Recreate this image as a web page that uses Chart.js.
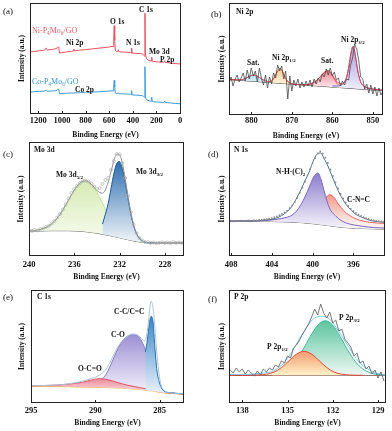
<!DOCTYPE html>
<html>
<head>
<meta charset="utf-8">
<script src="https://cdn.jsdelivr.net/npm/chart.js@4.4.1/dist/chart.umd.min.js"></script>
<style>
  html, body { margin: 0; padding: 0; background: #fff; }
  #fig { position: relative; width: 392px; height: 431px; overflow: hidden; }
  #fig canvas { position: absolute; }
</style>
</head>
<body>
<div id="fig"></div>
<script>
"use strict";

const FONT = '"Liberation Serif", "Times New Roman", serif';

// ---- (a) survey ----
const A_TICKS = [1200, 1000, 800, 600, 400, 200, 0];
const A_NI = [[1270,62.0],[1230,62.6],[1190,63.3],[1150,63.8],[1132,65.8],[1124,64.0],[1080,64.6],[1050,65.3],[1035,66.6],[1027,67.0],[1020,61.0],[1000,61.4],[960,62.1],[920,62.6],[905,63.0],[899,64.9],[893,63.1],[850,63.8],[800,64.4],[750,65.0],[700,65.7],[650,66.3],[600,67.0],[575,67.6],[566,67.2],[561,76],[557,88.3],[553,74],[548,64],[540,62.4],[528,62.6],[523,64.2],[516,62.2],[470,61.9],[420,61.5],[414,61.0],[410,66.0],[405,60.8],[380,60.7],[330,60.4],[318,60.0],[308,58.6],[300,57.8],[297,100.7],[293,60],[285,55.5],[272,54.0],[255,53.2],[244,53.0],[240,56.8],[236,53.0],[220,52.4],[180,52.0],[140,51.7],[130,53.3],[124,51.6],[80,51.0],[40,50.4],[-8,50.0]];
const A_CO = [[1270,22.0],[1230,22.3],[1190,22.6],[1150,22.8],[1132,23.8],[1124,22.8],[1080,23.0],[1050,23.3],[1035,24.5],[1027,25.0],[1020,20.3],[1000,20.5],[960,20.8],[900,21.0],[850,21.3],[800,21.5],[790,22.3],[783,21.4],[750,21.8],[700,22.1],[650,22.5],[600,22.9],[575,23.3],[566,23.0],[561,28],[557,33.7],[553,27],[548,21],[540,20.4],[523,21.2],[516,20.2],[470,20.1],[420,19.8],[414,19.4],[410,23.4],[405,19.1],[380,18.9],[330,18.6],[318,18.3],[308,17.3],[300,16.8],[297,47.3],[293,17],[285,14.5],[272,13.7],[255,13.0],[244,12.8],[240,16.8],[236,12.6],[220,12.2],[180,11.9],[140,11.6],[130,13.0],[124,11.5],[80,11.0],[40,10.5],[-8,10.2]];

// ---- (b) Ni 2p ----
const B_TICKS = [880, 870, 860, 850];
const B_BG = [[885.5,35.5],[847.5,24.3]];
const B_SAT1 = [[883,35.1],[882,35.7],[881,37.5],[880,39.6],[879.3,40.0],[878.5,38.7],[877.5,36.3],[876.5,34.0],[875.5,32.9]];
const B_NI12 = [[876,32.8],[875.5,33.1],[875,34.0],[874.5,36.2],[874,40.0],[873.5,43.8],[872.9,46.3],[872.3,43.7],[871.8,39.3],[871.3,35.3],[870.8,32.7],[870.3,31.5],[869.8,30.9]];
const B_SAT2 = [[867,30.2],[866,30.5],[865,31.6],[864,34.2],[863,38.2],[862,42.2],[861,43.7],[860.3,41.2],[859.6,36.5],[858.9,31.8],[858.2,29.1],[857.5,27.7]];
const B_NI32 = [[860,28.9],[859,29.0],[858,29.7],[857,32.9],[856.4,39.0],[855.9,49.1],[855.4,61.8],[854.9,68.5],[854.4,61.4],[853.9,48.5],[853.4,38.1],[852.9,32.2],[851.9,28.0],[850.9,26.6],[849.9,25.9],[848.5,25.2],[847.5,24.8]];
const B_ENV = [[885.5,35.5],[884,35.2],[883,35.1],[882,35.7],[881,37.5],[880,39.6],[879.3,40.0],[878.5,38.7],[877.5,36.3],[876.5,34.1],[875.5,33.4],[875,34.1],[874.5,36.2],[874,40.0],[873.5,43.8],[872.9,46.3],[872.3,43.7],[871.8,39.3],[871.3,35.3],[870.8,32.7],[870.3,31.5],[869.5,30.8],[868,30.3],[867,30.2],[866,30.5],[865,31.6],[864,34.2],[863,38.2],[862,42.8],[861,44.4],[860.3,42.0],[859.6,37.6],[858.9,33.4],[858.2,31.6],[857.5,31.2],[857,33.0],[856.4,39.0],[855.9,49.1],[855.4,61.8],[854.9,68.5],[854.4,61.4],[853.9,48.5],[853.4,38.1],[852.9,32.2],[851.9,28.0],[850.9,26.6],[849.9,25.9],[848.5,25.2],[847.5,24.8]];
const B_RAW = [[885.5,31],[885,38],[884.5,29],[884,36],[883.5,40],[883,33],[882.5,37],[882,42],[881.5,34],[881,45],[880.5,36],[880,47],[879.5,39],[879,44],[878.5,33],[878,47],[877.5,37],[877,30],[876.5,40],[876,27],[875.5,38],[875,31],[874.5,42],[874,37],[873.5,50],[873,44],[872.5,49],[872,36],[871.5,44],[871,16],[870.5,39],[870,24],[869.5,35],[869,29],[868.5,36],[868,27],[867.5,33],[867,28],[866.5,34],[866,29],[865.5,35],[865,28],[864.5,36],[864,31],[863.5,37],[863,33],[862.5,41],[862,38],[861.5,46],[861,40],[860.5,47],[860,39],[859.5,43],[859,35],[858.5,37],[858,29],[857.5,34],[857,30],[856.5,36],[856,35],[855.5,50],[855,57],[854.5,71],[854,66],[853.5,55],[853,38],[852.5,36],[852,26],[851.5,31],[851,22],[850.5,30],[850,21],[849.5,28],[849,19],[848.5,27],[848,20],[847.5,24]];

// ---- (c) Mo 3d ----
const C_TICKS = [240, 236, 232, 228];
const C_BG = [[240,24.7],[238,25.3],[236.5,25.3],[235,24.3],[234,22.8],[233,20.7],[232,18.3],[231,15.7],[230,13.7],[229,13.0],[226.3,13.0]];
const C_D52 = [[240,24.9],[239.5,25.5],[239,26.6],[238.5,28.6],[238,32.2],[237.5,38.0],[237,46.3],[236.5,56.2],[236,65.9],[235.5,73.0],[235,75.3],[234.5,71.8],[234,63.6],[233.5,52.7],[233,41.7],[232.5,32.2],[232,25.2],[231.5,20.4],[231,17.2],[230.5,15.3],[230,13.9],[229.5,13.3]];
const C_D32 = [[233.5,31.9],[233,52.7],[232.75,67.7],[232.5,82.4],[232.25,92.4],[232,94.5],[231.75,87.7],[231.5,74.1],[231.25,57.6],[231,42.1],[230.75,30.2],[230.5,22.2],[230,15.0],[229.5,13.4],[229,13.0]];
const C_ENV = [[240,24.9],[239.5,25.5],[239,26.6],[238.5,28.6],[238,32.2],[237.5,38.0],[237,46.3],[236.5,56.2],[236,65.9],[235.5,73.0],[235,75.3],[234.5,72.0],[234,65.6],[233.5,62.8],[233,73.7],[232.75,84.4],[232.5,95.1],[232.25,101.9],[232,101.4],[231.75,92.6],[231.5,77.5],[231.25,59.8],[231,43.6],[230.75,31.2],[230.5,22.8],[230,15.2],[229.5,13.4],[229,13.0],[226.3,13.0]];
const C_RAW = [[240,25.5],[239.75,25],[239.5,26],[239.25,25.5],[239,26.8],[238.75,27.5],[238.5,29],[238.25,30.2],[238,32.5],[237.75,35],[237.5,38.5],[237.25,42],[237,46.5],[236.75,51.5],[236.5,57.5],[236.25,63],[236,67],[235.75,70],[235.5,73],[235.25,74.8],[235,75.5],[234.75,74.5],[234.5,72.5],[234.25,69.5],[234,67],[233.75,68],[233.5,72],[233.25,76],[233,78],[232.75,86],[232.5,95],[232.25,102],[232,101.5],[231.75,93],[231.5,78],[231.25,60],[231,44],[230.75,31.5],[230.5,23],[230.25,18],[230,15.5],[229.75,14],[229.5,13.8],[229.25,13.2],[229,13.5],[228.75,12.8],[228.5,13.2],[228.25,13.6],[228,13],[227.75,13.4],[227.5,12.9],[227.25,14],[227,13.2],[226.75,13.6],[226.5,13]];

// ---- (d) N 1s ----
const D_TICKS = [408, 404, 400, 396];
const D_BG = [[408.2,34.7],[404,34.5],[402.3,34.0],[401,33.3],[399.7,32.0],[398.5,30.5],[397.4,29.0],[395.7,27.7],[392.9,27.0]];
const D_NH = [[408.2,34.8],[405,35.3],[404.3,35.7],[403.5,36.8],[402.6,38.5],[402,41],[401.6,44.7],[401.2,50.5],[400.8,58.0],[400.3,69.7],[399.9,79.0],[399.5,83.0],[399.15,76.0],[398.85,64.0],[398.35,48.0],[397.7,39.7],[397.2,35.5],[396.7,33.0],[395.1,29.7],[394,28.4],[392.9,27.9]];
const D_CNC = [[408.2,35.0],[405,35.6],[403,37.0],[402,38.8],[401,41.5],[400,46.5],[399.3,52.0],[398.7,58.5],[398.3,61.3],[397.9,58.5],[397.4,51.0],[396.7,43.0],[395.7,37.0],[394.4,33.7],[392.9,32.5]];
const D_ENV = [[408.2,34.8],[406,35.0],[405,35.5],[404,36.8],[403.3,39.0],[402.8,42.0],[402.3,46.3],[401.8,53.5],[401.3,63.0],[400.8,74.0],[400.3,85.0],[399.9,96.0],[399.5,102.5],[399.2,103.0],[398.9,98.0],[398.5,90.0],[398.1,80.0],[397.7,70.0],[397.2,59.5],[396.7,51.3],[396.2,45.5],[395.7,41.3],[395,38.0],[394.4,35.7],[393.6,34.3],[392.9,33.7]];
const D_RAW = [[408,35.3],[407.75,34.6],[407.5,35.1],[407.25,34.8],[407,35.4],[406.75,35.0],[406.5,35.3],[406.25,35.6],[406,35.2],[405.75,35.8],[405.5,35.6],[405.25,36.1],[405,36.0],[404.75,36.5],[404.5,36.9],[404.25,37.4],[404,37.9],[403.75,38.8],[403.5,39.6],[403.25,40.8],[403,42.0],[402.75,43.6],[402.5,45.3],[402.25,47.8],[402,50.6],[401.75,54.0],[401.5,58.0],[401.25,63.0],[401,68.5],[400.75,74.5],[400.5,80.5],[400.25,87.0],[400,93.0],[399.75,98.0],[399.5,102.5],[399.25,104.5],[399,102.5],[398.75,98.5],[398.5,93.0],[398.25,86.5],[398,80.0],[397.75,73.5],[397.5,67.5],[397.25,62.0],[397,57.5],[396.75,53.5],[396.5,50.0],[396.25,47.2],[396,45.0],[395.75,43.0],[395.5,41.3],[395.25,40.0],[395,38.8],[394.75,37.8],[394.5,37.0],[394.25,36.2],[394,35.7],[393.75,35.2],[393.5,34.8],[393.25,34.5],[393,34.4]];

// ---- (e) C 1s ----
const E_TICKS = [295, 290, 285];
const E_BASE = [[295,16.7],[292,16.3],[289.8,15.7],[287.2,14.3],[285.7,12.3],[284.7,10.3],[283.1,9.0]];
const E_OCO = [[295,17.2],[293,17.9],[292,19.0],[291,20.8],[290.3,23.0],[289.7,24.3],[289,23.2],[288.3,20.6],[287.5,17.8],[286.5,15.3],[285.5,12.6],[284.5,10.3],[283.1,9.1]];
const E_CO = [[291.5,16.5],[290.6,17.2],[289.8,20.5],[289.2,28.0],[288.8,38.0],[288.4,50.0],[288,60.0],[287.6,66.0],[287.1,68.3],[286.7,67.0],[286.4,62.0],[286.1,53.3],[285.9,45.0],[285.7,35.0],[285.45,25.0],[285.2,18.3],[284.7,11.7],[284,10.0],[283.1,9.0]];
const E_CC = [[286.1,51.0],[285.95,63.0],[285.8,79.0],[285.65,86.7],[285.5,80.0],[285.4,62.0],[285.3,45.0],[285.2,32.0],[285,20.0],[284.8,14.0],[284.5,11.0],[284,10.0],[283.1,9.0]];
const E_ENV = [[295,17.2],[293,18.0],[292,19.3],[291,21.8],[290.3,24.5],[289.8,27.0],[289.2,33.0],[288.8,42.0],[288.3,55.0],[287.9,62.0],[287.5,66.7],[287.1,69.0],[286.7,68.0],[286.4,64.5],[286.15,62.0],[285.95,72.0],[285.8,90.0],[285.65,101.7],[285.5,94.0],[285.4,81.7],[285.2,48.3],[284.95,21.7],[284.7,13.3],[284.2,10.3],[283.1,9.2]];

// ---- (f) P 2p ----
const F_TICKS = [138, 135, 132, 129];
const F_BASE = [[138.88,27.7],[128.47,27.7]];
const F_P12 = [[138.88,27.7],[136.9,28.0],[136.4,28.8],[135.9,30.9],[135.4,35.5],[134.9,42.3],[134.4,48.9],[133.9,51.7],[133.4,48.9],[132.9,42.3],[132.4,35.5],[131.9,30.9],[131.4,28.8],[130.9,28.0],[130,27.7]];
const F_P32 = [[136,28.5],[135.5,30.1],[135,33.9],[134.5,41.3],[134,52.7],[133.5,66.3],[133,77.8],[132.5,82.3],[132,77.8],[131.5,66.3],[131,52.7],[130.5,41.3],[130,33.9],[129.5,30.1],[129,28.5],[128.47,27.9]];
const F_ENV = [[138.88,28.5],[137.5,28.8],[136.6,30.0],[136,31.7],[135.3,39.0],[134.9,46.7],[134.5,56.7],[133.9,71.7],[133.35,83.3],[132.8,86.7],[132.25,84.3],[131.6,71.7],[130.9,55.0],[130.3,41.7],[129.6,33.3],[128.9,29.0],[128.47,27.9]];
const F_RAW = [[138.8,33],[138.6,30],[138.4,35],[138.2,31],[138.0,34],[137.8,29],[137.6,33],[137.4,30],[137.2,27],[137.0,32],[136.8,28],[136.6,34],[136.4,31],[136.2,35],[136.0,33],[135.8,38],[135.6,36],[135.4,42],[135.2,40],[135.0,47],[134.8,45],[134.6,55],[134.4,58],[134.2,63],[134.0,69],[133.8,74],[133.6,79],[133.4,86],[133.2,94],[133.0,88],[132.8,99],[132.6,90],[132.4,85],[132.2,91],[132.0,80],[131.8,83],[131.6,72],[131.4,74],[131.2,64],[131.0,60],[130.8,56],[130.6,47],[130.4,50],[130.2,40],[130.0,42],[129.8,34],[129.6,37],[129.4,29],[129.2,33],[129.0,25],[128.8,31],[128.6,22]];

// ---- text inside panels (page coordinates) ----
const A_LABELS = [
  { t: "Ni-P_{4}Mo_{6}/GO", x: 32, y: 31, c: "#e65a68", w: "normal", s: 8 },
  { t: "Ni 2p", x: 66, y: 43 }, { t: "O 1s", x: 110, y: 22 }, { t: "C 1s", x: 139, y: 10 },
  { t: "N 1s", x: 126, y: 43 }, { t: "Mo 3d", x: 149, y: 52 }, { t: "P 2p", x: 160, y: 60 },
  { t: "Co-P_{4}Mo_{6}/GO", x: 32, y: 82, c: "#3a98d6", w: "normal", s: 8 },
  { t: "Co 2p", x: 75, y: 90 },
];
const B_LABELS = [
  { t: "Ni 2p", x: 236, y: 12 }, { t: "Sat.", x: 247, y: 63 }, { t: "Ni 2p_{1/2}", x: 272, y: 58 },
  { t: "Sat.", x: 321, y: 61 }, { t: "Ni 2p_{3/2}", x: 341, y: 40 },
];
const C_LABELS = [
  { t: "Mo 3d", x: 34, y: 150 }, { t: "Mo 3d_{5/2}", x: 56, y: 175 }, { t: "Mo 3d_{3/2}", x: 136, y: 172 },
];
const D_LABELS = [
  { t: "N 1s", x: 234, y: 150 }, { t: "N-H-(C)_{2}", x: 276, y: 172 }, { t: "C-N=C", x: 347, y: 200 },
];
const E_LABELS = [
  { t: "C 1s", x: 37, y: 297 }, { t: "C-C/C=C", x: 114, y: 312 }, { t: "C-O", x: 111, y: 335 },
  { t: "O-C=O", x: 78, y: 369 },
];
const F_LABELS = [
  { t: "P 2p", x: 234, y: 297 }, { t: "P 2p_{3/2}", x: 339, y: 318 }, { t: "P 2p_{1/2}", x: 267, y: 347 },
];

function drawRich(ctx, text, x, y, size, color, weight) {
  const parts = text.split(/(_\{[^}]*\})/);
  let cx = x;
  ctx.fillStyle = color;
  ctx.textBaseline = "middle";
  ctx.textAlign = "left";
  parts.forEach((part) => {
    if (!part) return;
    const sub = part.startsWith("_{");
    const s = sub ? part.slice(2, -1) : part;
    const fs = sub ? size * 0.66 : size;
    ctx.font = weight + " " + fs + "px " + FONT;
    ctx.fillText(s, cx, sub ? y + size * 0.3 : y);
    cx += ctx.measureText(s).width;
  });
}

// gradient from the top of a peak to its foot
function grad(topColor, bottomColor) {
  return (c) => {
    const chart = c.chart;
    if (!chart.chartArea || !chart.scales.y) return topColor;
    const ys = c.dataset.data.map((d) => d[1]);
    const y0 = chart.scales.y.getPixelForValue(Math.max(...ys));
    const y1 = chart.scales.y.getPixelForValue(Math.min(...ys));
    const g = chart.ctx.createLinearGradient(0, y0, 0, Math.max(y1, y0 + 1));
    g.addColorStop(0, topColor);
    g.addColorStop(1, bottomColor);
    return g;
  };
}

function line(data, color, width) {
  return { data, borderColor: color, borderWidth: width, pointRadius: 0, tension: 0, fill: false };
}

function peak(data, color, top, bottom, target) {
  return {
    data, borderColor: color, borderWidth: 1, pointRadius: 0,
    cubicInterpolationMode: "monotone", fill: { target }, backgroundColor: grad(top, bottom),
  };
}

function smooth(data, color, width) {
  return Object.assign(line(data, color, width), { cubicInterpolationMode: "monotone" });
}

function dots(data, color, radius, open) {
  return {
    data, showLine: false, pointRadius: radius, pointHoverRadius: radius,
    pointBorderColor: color, pointBorderWidth: open ? 0.7 : 0,
    pointBackgroundColor: open ? "rgba(255,255,255,0)" : color,
  };
}

const PANELS = [
  {
    letter: "(a)", lx: 3, ly: 12, left: 0, top: 0, w: 196, h: 145,
    area: { l: 30, t: 3, r: 181, b: 114 }, x: [-8, 1270], yMax: 111, ticks: A_TICKS,
    yPad: 17.9, xPad: 5.2, tickPad: 1.6, labels: A_LABELS,
    sets: () => [line(A_NI, "#e8515f", 1), line(A_CO, "#3e9bd8", 1)],
  },
  {
    letter: "(b)", lx: 211, ly: 15, left: 196, top: 0, w: 196, h: 145,
    area: { l: 33, t: 3, r: 187, b: 115 }, x: [847.5, 885.5], yMax: 112, ticks: B_TICKS,
    yPad: 21.9, xPad: 4.2, tickPad: 0.6, labels: B_LABELS,
    sets: () => [
      line(B_RAW, "#4a4a4a", 0.8),
      smooth(B_ENV, "#e0474f", 1),
      peak(B_NI32, "#7a6cc0", "#a99ddf", "#f1effa", 6),
      peak(B_SAT2, "#e7566a", "#f08a98", "#fde8eb", 6),
      peak(B_NI12, "#e6a85a", "#f7cf8f", "#fdf1de", 6),
      peak(B_SAT1, "#6fb4de", "#a8d4ef", "#e6f3fb", 6),
      line(B_BG, "#333333", 1),
    ],
  },
  {
    letter: "(c)", lx: 3, ly: 155, left: 0, top: 137, w: 196, h: 147,
    area: { l: 29, t: 5, r: 184, b: 119 }, x: [226.3, 240], yMax: 114, ticks: C_TICKS,
    yPad: 16.9, xPad: 2.2, tickPad: 3.9, labels: C_LABELS,
    sets: () => [
      dots(C_RAW, "#b0b0b0", 1.5, true),
      smooth(C_ENV, "#8f8f8f", 1),
      peak(C_D32, "#1f5b98", "#2f6eae", "#f2f6fb", 4),
      peak(C_D52, "#c2e09a", "#d6ebb3", "#f8fcf1", 4),
      smooth(C_BG, "#555555", 1),
    ],
  },
  {
    letter: "(d)", lx: 208, ly: 155, left: 196, top: 137, w: 196, h: 147,
    area: { l: 33, t: 5, r: 189, b: 119 }, x: [392.9, 408.2], yMax: 114, ticks: D_TICKS,
    yPad: 21.9, xPad: 2.2, tickPad: 3.9, labels: D_LABELS,
    sets: () => [
      dots(D_RAW, "#8a8a8a", 0.9, false),
      smooth(D_ENV, "#4f7490", 1),
      peak(D_NH, "#7b68c0", "#8c7dcc", "#f5f3fb", 4),
      peak(D_CNC, "#e8635c", "#f19a8c", "#fdeeea", 4),
      smooth(D_BG, "#555555", 1),
    ],
  },
  {
    letter: "(e)", lx: 3, ly: 298, left: 0, top: 284, w: 196, h: 147,
    area: { l: 31, t: 6, r: 184, b: 119 }, x: [283.1, 295], yMax: 113, ticks: E_TICKS,
    yPad: 17.9, xPad: 3.2, tickPad: 2.9, labels: E_LABELS,
    sets: () => [
      smooth(E_ENV, "#a9c4d6", 1),
      peak(E_CC, "#2a6fb0", "#3a86c8", "#e8f2fa", 4),
      peak(E_OCO, "#e0516a", "#ee8a98", "#fbe8ec", 4),
      peak(E_CO, "#8a7bc4", "#9d90d4", "#f5f3fb", 4),
      smooth(E_BASE, "#f0b43c", 1.2),
    ],
  },
  {
    letter: "(f)", lx: 208, ly: 300, left: 196, top: 284, w: 196, h: 147,
    area: { l: 33, t: 6, r: 190, b: 119 }, x: [128.47, 138.88], yMax: 113, ticks: F_TICKS,
    yPad: 21.9, xPad: 3.2, tickPad: 2.9, labels: F_LABELS,
    sets: () => [
      line(F_RAW, "#6a6a6a", 0.9),
      smooth(F_ENV, "#7cc8ea", 1),
      peak(F_P12, "#e0483a", "#f29a6e", "#fff3c8", 4),
      peak(F_P32, "#45b89a", "#5cc4a0", "#eef8f3", 4),
      line(F_BASE, "#5a1e1e", 1),
    ],
  },
];

function makeDecor(p) {
  return {
    id: "decor" + p.letter,
    afterDraw(chart) {
      const { ctx, chartArea: ca, scales } = chart;
      ctx.save();
      ctx.strokeStyle = "#222";
      ctx.lineWidth = 1;
      ctx.strokeRect(ca.left + 0.5, ca.top + 0.5, ca.right - ca.left - 1, ca.bottom - ca.top - 1);
      ctx.beginPath();
      scales.x.ticks.forEach((t) => {
        const x = Math.round(scales.x.getPixelForValue(t.value)) + 0.5;
        ctx.moveTo(x, ca.bottom);
        ctx.lineTo(x, ca.bottom - 3);
      });
      ctx.stroke();
      p.labels.forEach((l) => {
        drawRich(ctx, l.t, l.x - p.left, l.y - p.top, l.s || 7.5, l.c || "#111", l.w || "bold");
      });
      drawRich(ctx, p.letter, p.lx - p.left, p.ly - p.top, 9, "#111", "normal");
      ctx.restore();
    },
  };
}

function buildPanel(p) {
  const canvas = document.createElement("canvas");
  canvas.width = p.w;
  canvas.height = p.h;
  canvas.style.left = p.left + "px";
  canvas.style.top = p.top + "px";
  canvas.style.width = p.w + "px";
  canvas.style.height = p.h + "px";
  document.getElementById("fig").appendChild(canvas);

  new Chart(canvas, {
    type: "line",
    data: { datasets: p.sets() },
    options: {
      responsive: false,
      animation: false,
      devicePixelRatio: 1,
      layout: { padding: { top: p.area.t, right: p.w - p.area.r, left: 0, bottom: 0 } },
      plugins: { legend: { display: false }, tooltip: { enabled: false } },
      scales: {
        x: {
          type: "linear", reverse: true, min: p.x[0], max: p.x[1],
          afterFit: (s) => { s.height = p.h - p.area.b; },
          afterBuildTicks: (s) => { s.ticks = p.ticks.map((v) => ({ value: v })); },
          grid: { display: false, drawTicks: false },
          border: { display: false },
          ticks: {
            padding: p.tickPad, color: "#111", maxRotation: 0, autoSkip: false,
            callback: (v) => String(v),
            font: { family: FONT, size: 8.5, weight: "bold", lineHeight: 1.2 },
          },
          title: {
            display: true, text: "Binding Energy (eV)", color: "#111",
            font: { family: FONT, size: 7.5, weight: "bold", lineHeight: 1.2 },
            padding: { top: 0, bottom: p.xPad },
          },
        },
        y: {
          min: 0, max: p.yMax,
          afterFit: (s) => { s.width = p.area.l; },
          grid: { display: false },
          border: { display: false },
          ticks: { display: false },
          title: {
            display: true, text: "Intensity (a.u.)", color: "#111",
            font: { family: FONT, size: 7.5, weight: "bold", lineHeight: 1.2 },
            padding: { top: p.yPad, bottom: 0 },
          },
        },
      },
    },
    plugins: [makeDecor(p)],
  });
}

PANELS.forEach(buildPanel);
</script>
</body>
</html>
